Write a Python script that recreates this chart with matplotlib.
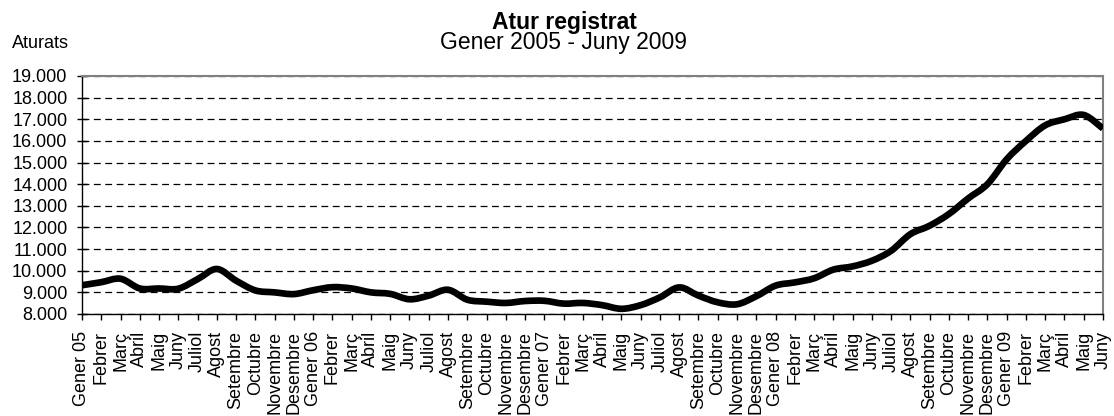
import numpy as np
import matplotlib
matplotlib.use("Agg")
import matplotlib.pyplot as plt
from matplotlib.path import Path
from matplotlib.patches import PathPatch
from matplotlib.ticker import FuncFormatter, MultipleLocator

plt.rcParams['font.family'] = ['Liberation Sans', 'DejaVu Sans']

months = ["Gener", "Febrer", "Març", "Abril", "Maig", "Juny", "Juliol", "Agost",
          "Setembre", "Octubre", "Novembre", "Desembre"]
years = ["05", "06", "07", "08", "09"]

# month labels, Gener 05 .. Juny 09
labels = []
for y in years:
    for i, m in enumerate(months):
        labels.append(f"{m} {y}" if i == 0 else m)

# registered unemployed
aturats = [
    9330, 9470, 9630, 9180, 9180, 9170, 9610, 10080, 9540, 9090, 9000, 8920,   # 2005
    9100, 9240, 9180, 9000, 8930, 8680, 8850, 9120, 8660, 8570, 8510, 8600,    # 2006
    8610, 8480, 8510, 8410, 8240, 8410, 8770, 9230, 8850, 8540, 8450, 8820,    # 2007
    9310, 9460, 9650, 10050, 10200, 10460, 10920, 11690, 12080, 12620, 13340, 14000,  # 2008
    15150, 16000, 16720, 17000, 17200, 16570,                                 # 2009
]
labels = labels[:len(aturats)]
x = np.arange(len(aturats))


def smooth_path(xs, ys):
    # cubic bezier through every point, like the "smoothed line" option in Excel
    p = np.column_stack([xs, ys]).astype(float)
    ext = np.vstack([p[0], p, p[-1]])
    verts = [p[0]]
    codes = [Path.MOVETO]
    for i in range(len(p) - 1):
        c1 = ext[i + 1] + (ext[i + 2] - ext[i]) / 6
        c2 = ext[i + 2] - (ext[i + 3] - ext[i + 1]) / 6
        verts += [c1, c2, p[i + 1]]
        codes += [Path.CURVE4] * 3
    return Path(verts, codes)


fig = plt.figure(figsize=(11.14, 4.16), dpi=100)
ax = fig.add_axes([82 / 1114, 1 - 314 / 416, (1103 - 82) / 1114, (314 - 76) / 416])

ax.add_patch(PathPatch(smooth_path(x, aturats), facecolor="none", edgecolor="black",
                       lw=4.8, joinstyle="round", capstyle="butt", zorder=3))

ax.set_xlim(0, len(aturats) - 1)
ax.set_ylim(8000, 19000)
ax.yaxis.set_major_locator(MultipleLocator(1000))
ax.yaxis.set_major_formatter(FuncFormatter(lambda v, p: f"{int(v):,}".replace(",", ".")))
ax.set_xticks(x)
ax.set_xticklabels(labels, rotation=90, fontsize=13)
ax.tick_params(axis="y", labelsize=13, direction="inout", length=7, width=1, pad=7)
ax.tick_params(axis="x", length=4, width=1, pad=8)

ax.grid(axis="y", color="black", lw=0.9, linestyle=(0, (5.5, 3.6)))
ax.set_axisbelow(True)
for s in ["top", "right"]:
    ax.spines[s].set_color("#808080")
    ax.spines[s].set_linewidth(1.5)
for s in ["left", "bottom"]:
    ax.spines[s].set_color("black")
    ax.spines[s].set_linewidth(1)

fig.text(564 / 1114, 1 - 22 / 416, "Atur registrat", ha="center", va="center",
         fontsize=16.5, fontweight="bold")
fig.text(564 / 1114, 1 - 43 / 416, "Gener 2005 - Juny 2009", ha="center", va="center",
         fontsize=16.5)
fig.text(12 / 1114, 1 - 43 / 416, "Aturats", ha="left", va="center", fontsize=13)

fig.savefig("out.png", dpi=100)
